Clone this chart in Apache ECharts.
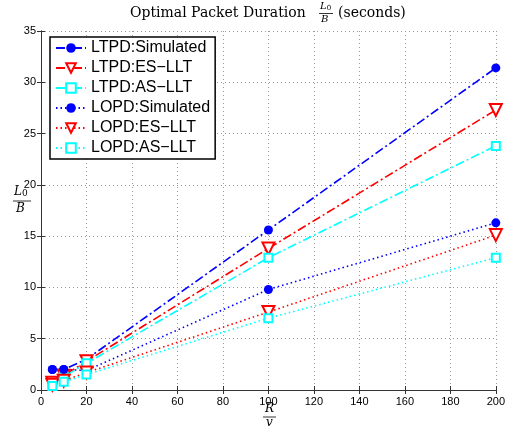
<!DOCTYPE html>
<html>
<head>
<meta charset="utf-8">
<script src="https://cdn.jsdelivr.net/npm/echarts@6/dist/echarts.min.js"></script>
<style>
  html, body { margin: 0; padding: 0; background: #fff; }
  #chart { width: 508px; height: 433px; }
</style>
</head>
<body>
<div id="chart"></div>
<script>
  // R/v values
  var xValues = [5, 10, 20, 100, 200];
  var ltpdSim = [2.0, 2.0, 3.0, 15.6, 31.4];
  var ltpdEs = [0.7, 1.4, 2.8, 13.8, 27.3];
  var ltpdAs = [0.6, 1.3, 2.6, 12.9, 23.8];
  var lopdSim = [2.0, 2.0, 1.9, 9.8, 16.3];
  var lopdEs = [0.5, 0.9, 1.7, 7.6, 15.1];
  var lopdAs = [0.4, 0.8, 1.5, 7.0, 12.9];

  var chart = echarts.init(document.getElementById('chart'));
  var serif = '"DejaVu Serif", "Liberation Serif", serif';
  var sans = '"Liberation Sans", Arial, sans-serif';

  function pairs(ys) {
    return xValues.map(function (x, i) { return [x, ys[i]]; });
  }

  var dashDot = [9, 3, 2, 3];
  var dotted = [1.5, 3];

  function makeSeries(name, ys, color, symbol, dash) {
    var s = {
      name: name,
      type: 'line',
      data: pairs(ys),
      symbol: symbol,
      symbolSize: 9,
      lineStyle: { color: color, width: 1.6, type: dash },
      itemStyle: { color: color },
      z: 3
    };
    if (symbol === 'triangle') {
      s.symbolRotate = 180;
      s.symbolSize = 12;
      s.itemStyle = { color: '#fff', borderColor: color, borderWidth: 2 };
    } else if (symbol === 'rect') {
      s.symbolSize = 8;
      s.itemStyle = { color: '#fff', borderColor: color, borderWidth: 2 };
    }
    return s;
  }

  // top/right frame axes, ticks on all sides like matlab
  var frameAxis = {
    axisLine: { show: true, lineStyle: { color: '#333', width: 1 } },
    axisTick: { show: true, inside: true, length: 4, lineStyle: { color: '#333' } },
    axisLabel: { show: false },
    splitLine: { show: false }
  };

  var option = {
    animation: false,
    backgroundColor: '#fff',
    grid: { left: 41, right: 11, top: 31, bottom: 43 },
    legend: {
      orient: 'vertical',
      left: 50,
      top: 37,
      padding: [3, 5, 3, 5],
      itemGap: 4,
      itemWidth: 30,
      itemHeight: 12,
      backgroundColor: '#fff',
      borderColor: '#000',
      borderWidth: 1.5,
      textStyle: { fontFamily: sans, fontSize: 16, color: '#000' },
      data: ['LTPD:Simulated', 'LTPD:ES\u2212LLT', 'LTPD:AS\u2212LLT',
             'LOPD:Simulated', 'LOPD:ES\u2212LLT', 'LOPD:AS\u2212LLT']
    },
    xAxis: [{
      type: 'value',
      min: 0, max: 200, interval: 20,
      axisLine: { show: true, lineStyle: { color: '#333', width: 1 } },
      axisTick: { show: true, inside: true, length: 4, lineStyle: { color: '#333' } },
      axisLabel: { fontFamily: sans, fontSize: 11, color: '#000', margin: 6 },
      splitLine: { show: true, lineStyle: { color: '#999', type: [1, 3] } }
    }, Object.assign({ type: 'value', position: 'top', min: 0, max: 200, interval: 20 }, frameAxis)],
    yAxis: [{
      type: 'value',
      min: 0, max: 35, interval: 5,
      axisLine: { show: true, lineStyle: { color: '#333', width: 1 } },
      axisTick: { show: true, inside: true, length: 4, lineStyle: { color: '#333' } },
      axisLabel: { fontFamily: sans, fontSize: 11, color: '#000', margin: 5 },
      splitLine: { show: true, lineStyle: { color: '#999', type: [1, 3] } }
    }, Object.assign({ type: 'value', position: 'right', min: 0, max: 35, interval: 5 }, frameAxis)],
    series: [
      makeSeries('LTPD:Simulated', ltpdSim, '#0000ff', 'circle', dashDot),
      makeSeries('LTPD:ES\u2212LLT', ltpdEs, '#ff0000', 'triangle', dashDot),
      makeSeries('LTPD:AS\u2212LLT', ltpdAs, '#00ffff', 'rect', dashDot),
      makeSeries('LOPD:Simulated', lopdSim, '#0000ff', 'circle', dotted),
      makeSeries('LOPD:ES\u2212LLT', lopdEs, '#ff0000', 'triangle', dotted),
      makeSeries('LOPD:AS\u2212LLT', lopdAs, '#00ffff', 'rect', dotted)
    ],
    graphic: [
      // title
      { type: 'text', left: 130, top: 6, style: { text: 'Optimal Packet Duration', fontFamily: serif, fontSize: 14, fill: '#000' } },
      { type: 'text', left: 320, top: 1, style: { rich: { i: { fontFamily: serif, fontStyle: 'italic', fontSize: 10 }, s: { fontFamily: serif, fontSize: 7, padding: [4, 0, 0, 0] } }, text: '{i|L}{s|0}', fill: '#000' } },
      { type: 'line', shape: { x1: 319, y1: 13.5, x2: 333, y2: 13.5 }, style: { stroke: '#000', lineWidth: 0.8 } },
      { type: 'text', left: 321, top: 14, style: { text: 'B', fontFamily: serif, fontStyle: 'italic', fontSize: 10, fill: '#000' } },
      { type: 'text', left: 338, top: 6, style: { text: '(seconds)', fontFamily: serif, fontSize: 14, fill: '#000' } },
      // y axis name
      { type: 'text', left: 14, top: 186, style: { rich: { i: { fontFamily: serif, fontStyle: 'italic', fontSize: 12 }, s: { fontFamily: serif, fontSize: 9, padding: [4, 0, 0, 0] } }, text: '{i|L}{s|0}', fill: '#000' } },
      { type: 'line', shape: { x1: 13, y1: 201, x2: 31, y2: 201 }, style: { stroke: '#000', lineWidth: 0.8 } },
      { type: 'text', left: 16, top: 203, style: { text: 'B', fontFamily: serif, fontStyle: 'italic', fontSize: 12, fill: '#000' } },
      // x axis name
      { type: 'text', left: 265, top: 403, style: { text: 'R', fontFamily: serif, fontStyle: 'italic', fontSize: 12, fill: '#000' } },
      { type: 'line', shape: { x1: 263, y1: 417, x2: 276, y2: 417 }, style: { stroke: '#000', lineWidth: 0.8 } },
      { type: 'text', left: 266, top: 417, style: { text: 'v', fontFamily: serif, fontStyle: 'italic', fontSize: 12, fill: '#000' } }
    ]
  };

  chart.setOption(option);
</script>
</body>
</html>
